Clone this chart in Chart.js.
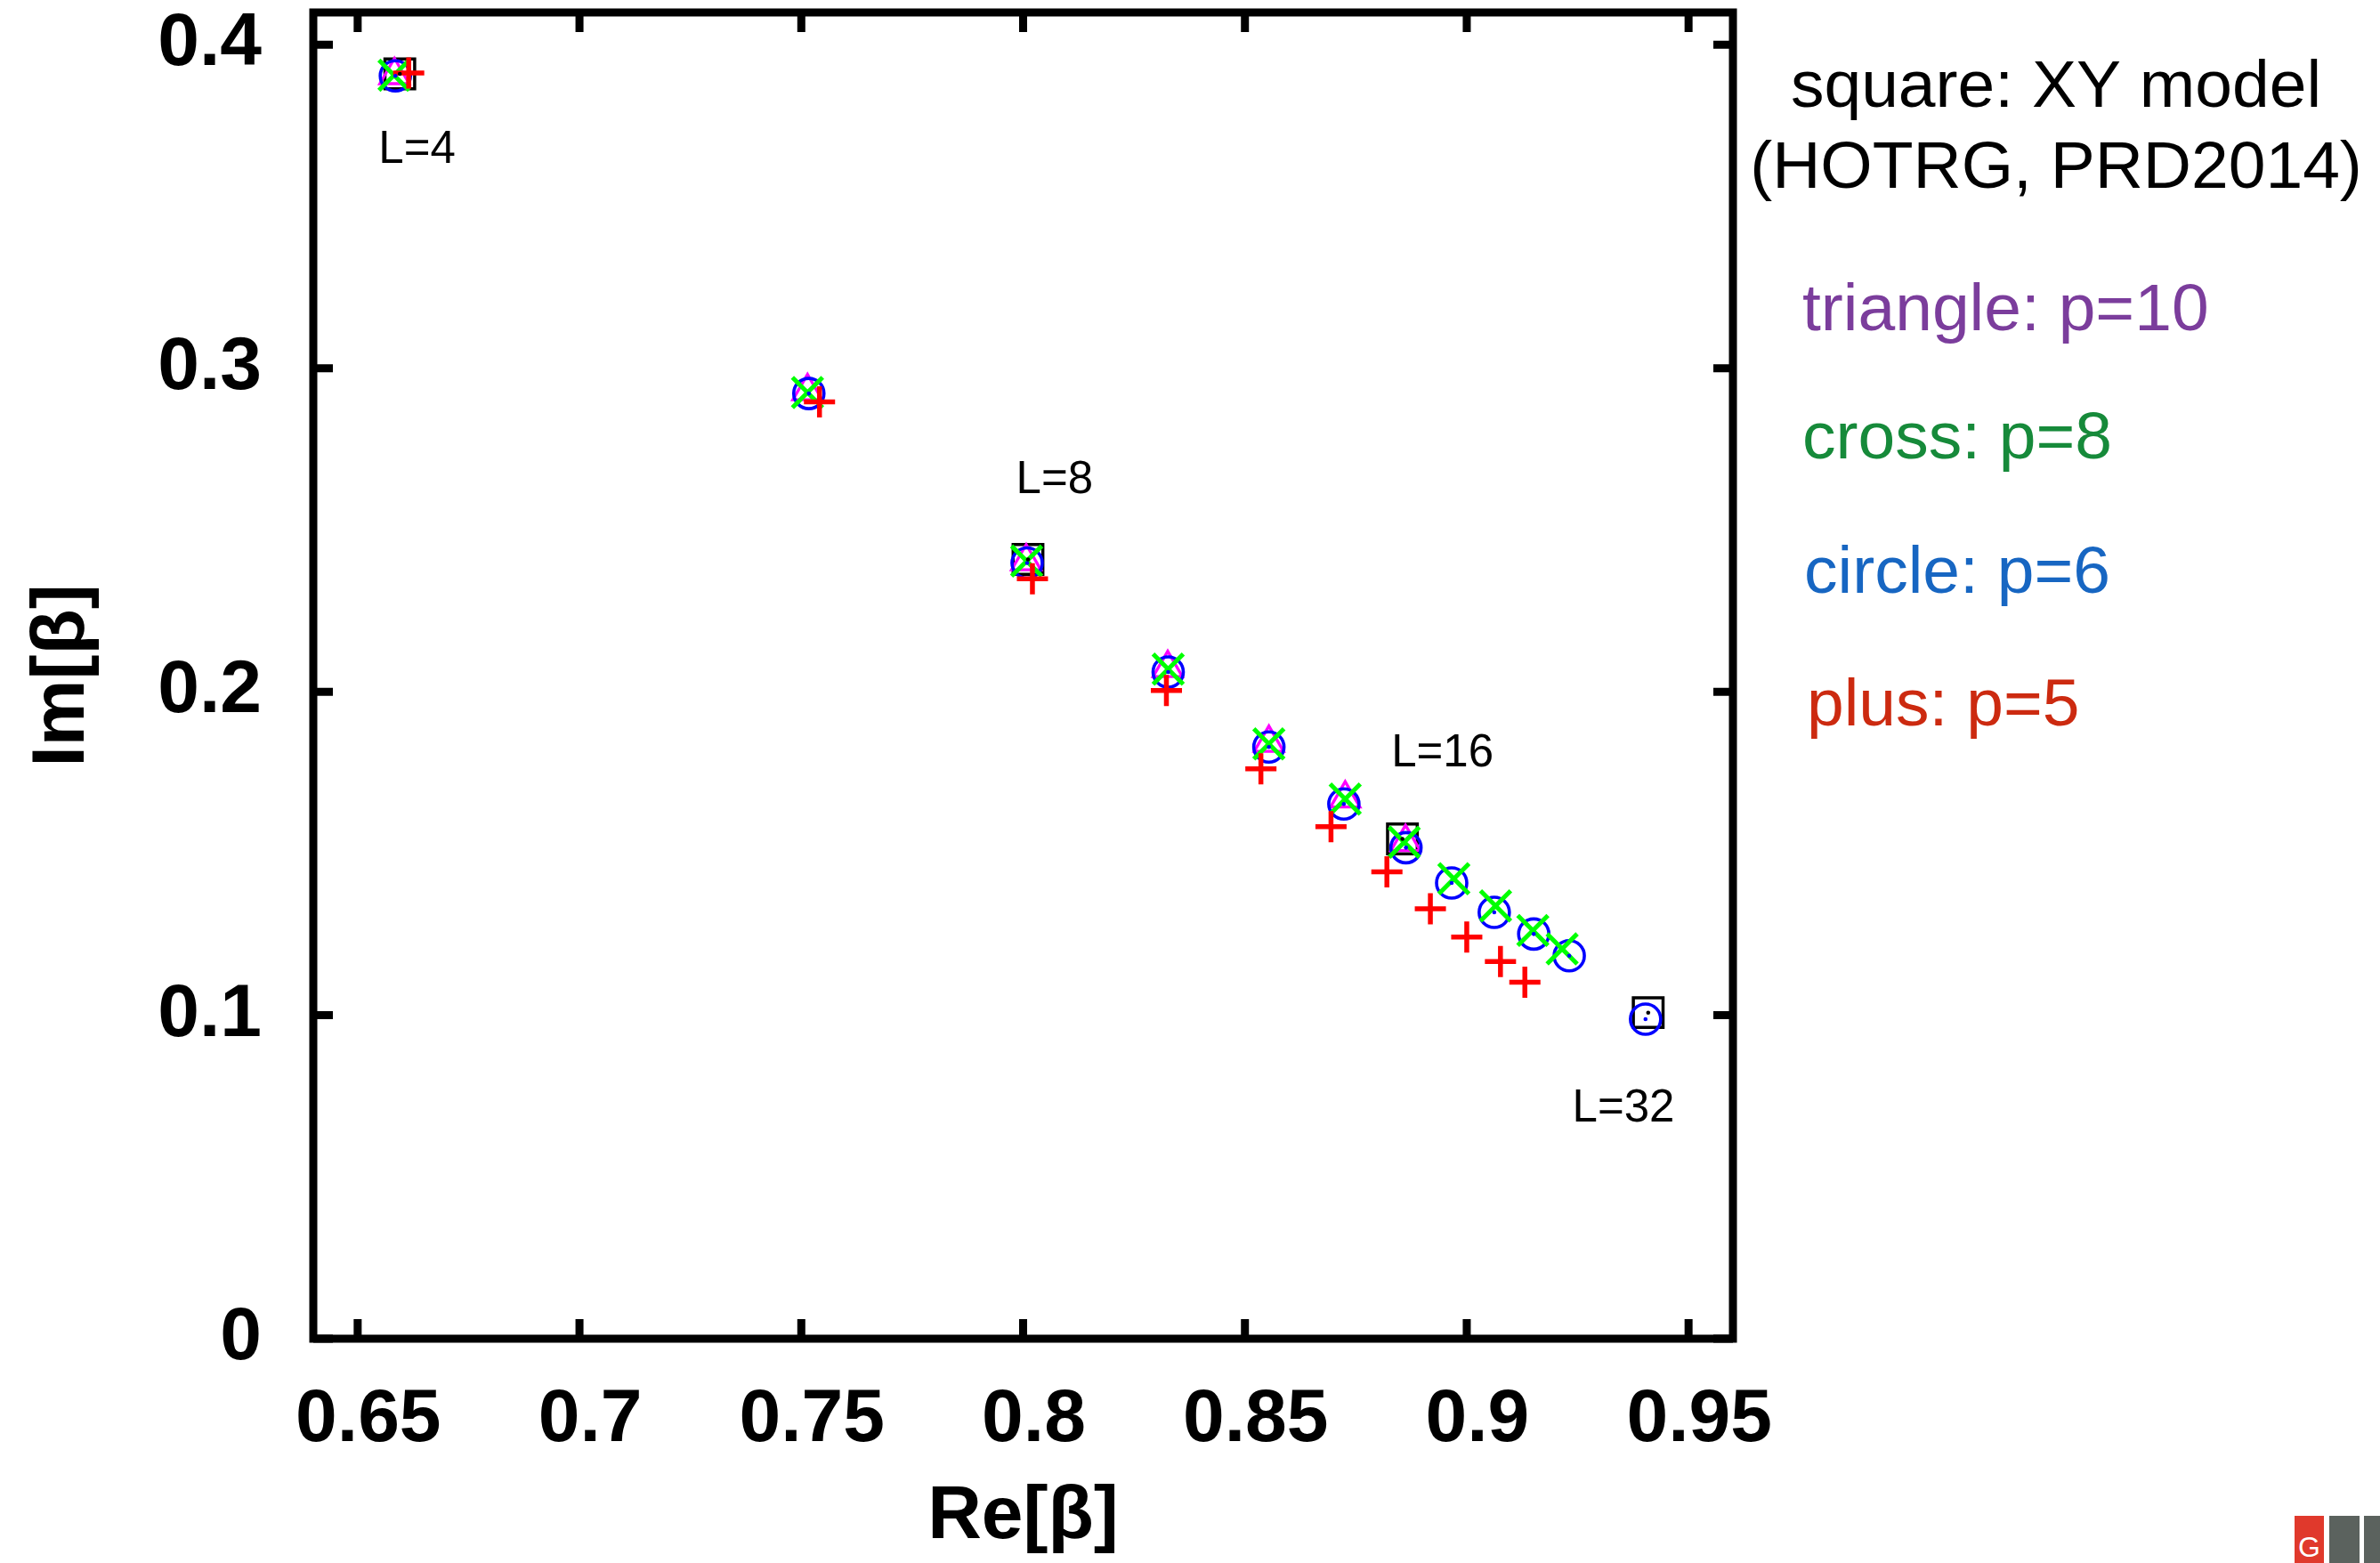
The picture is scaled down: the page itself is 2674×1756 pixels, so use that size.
<!DOCTYPE html>
<html>
<head>
<meta charset="utf-8">
<title>Fisher zeros, XY model</title>
<script src="https://cdn.jsdelivr.net/npm/chart.js"></script>
<style>
  html, body { margin: 0; padding: 0; background: #fff; }
  #wrap { position: relative; width: 2674px; height: 1756px; }
  .logo { position: absolute; top: 1703px; height: 53px; }
</style>
</head>
<body>
<div id="wrap">
  <canvas id="zeros" width="2674" height="1756"></canvas>
  <div class="logo" style="left:2578px;width:33px;background:#e0392c;color:#fff;font:32px 'Liberation Sans',Arial,sans-serif;text-align:center;line-height:70px;overflow:hidden">G</div>
  <div class="logo" style="left:2617px;width:34px;background:#5b625e"></div>
  <div class="logo" style="left:2656px;width:18px;background:#5b625e"></div>
</div>
<script>
const FONT = "'Liberation Sans', Arial, Helvetica, sans-serif";

// square: XY model, HOTRG reference
const squareRe = [0.6595, 0.8011, 0.8855, 0.9409];
const squareIm = [0.3910, 0.2409, 0.1545, 0.1008];

// triangle: p=10
const triRe = [0.6583, 0.7514, 0.8007, 0.8326, 0.8554, 0.8726, 0.8862];
const triIm = [0.3906, 0.2929, 0.2403, 0.2073, 0.1842, 0.1670, 0.1535];

// cross: p=8
const crossRe = [0.6582, 0.7514, 0.8008, 0.8327, 0.8554, 0.8726, 0.8859, 0.8971, 0.9065, 0.9149, 0.9215];
const crossIm = [0.3906, 0.2925, 0.2404, 0.2070, 0.1839, 0.1668, 0.1535, 0.1422, 0.1338, 0.1262, 0.1205];

// circle: p=6
const circRe = [0.6585, 0.7517, 0.8009, 0.8327, 0.8554, 0.8723, 0.8863, 0.8966, 0.9062, 0.9151, 0.9231, 0.9403];
const circIm = [0.3904, 0.2922, 0.2398, 0.2061, 0.1829, 0.1653, 0.1518, 0.1409, 0.1318, 0.1251, 0.1184, 0.0988];

// plus: p=5
const plusRe = [0.6615, 0.7541, 0.8021, 0.8323, 0.8536, 0.8694, 0.8820, 0.8918, 0.9000, 0.9076, 0.9131];
const plusIm = [0.3913, 0.2896, 0.2349, 0.2004, 0.1762, 0.1583, 0.1443, 0.1329, 0.1242, 0.1166, 0.1102];

// lattice size annotations (anchor = left end of text baseline)
const sizeLabels = ['L=4', 'L=8', 'L=16', 'L=32'];
const sizeLabelRe = [0.6547, 0.7984, 0.8830, 0.9238];
const sizeLabelIm = [0.3634, 0.2615, 0.1769, 0.0671];

const xTicks = [0.65, 0.7, 0.75, 0.8, 0.85, 0.9, 0.95];
const xTickLabels = ['0.65', '0.7', '0.75', '0.8', '0.85', '0.9', '0.95'];
const yTicks = [0, 0.1, 0.2, 0.3, 0.4];
const yTickLabels = ['0', '0.1', '0.2', '0.3', '0.4'];

const pts = (xs, ys) => xs.map((x, i) => ({ x: x, y: ys[i] }));

const boldFont = { family: FONT, size: 84, weight: 'bold', lineHeight: 1.2 };

// frame, inward ticks, centre dots, text annotations
const decorations = {
  id: 'decorations',
  afterDatasetsDraw(chart) {
    const { ctx, scales: { x, y } } = chart;
    ctx.save();
    // gnuplot-style centre dot on circles and squares
    [[2, '#0000ff'], [4, '#000000']].forEach(([idx, col]) => {
      ctx.fillStyle = col;
      chart.getDatasetMeta(idx).data.forEach(p => {
        ctx.beginPath();
        ctx.arc(p.x, p.y, 2.3, 0, Math.PI * 2);
        ctx.fill();
      });
    });
    ctx.fillStyle = '#000';
    ctx.font = '51px ' + FONT;
    ctx.textAlign = 'left';
    ctx.textBaseline = 'alphabetic';
    sizeLabels.forEach((t, i) => {
      ctx.fillText(t, x.getPixelForValue(sizeLabelRe[i]), y.getPixelForValue(sizeLabelIm[i]));
    });
    ctx.restore();
  },
  afterDraw(chart) {
    const { ctx, chartArea: a, scales: { x, y } } = chart;
    const tick = 22;
    ctx.save();
    ctx.strokeStyle = '#000';
    ctx.lineWidth = 9;
    ctx.lineCap = 'butt';
    ctx.lineJoin = 'miter';
    ctx.strokeRect(a.left, a.top, a.right - a.left, a.bottom - a.top);
    ctx.beginPath();
    xTicks.forEach(v => {
      const px = x.getPixelForValue(v);
      ctx.moveTo(px, a.bottom); ctx.lineTo(px, a.bottom - tick);
      ctx.moveTo(px, a.top); ctx.lineTo(px, a.top + tick);
    });
    yTicks.forEach(v => {
      const py = y.getPixelForValue(v);
      ctx.moveTo(a.left, py); ctx.lineTo(a.left + tick, py);
      ctx.moveTo(a.right, py); ctx.lineTo(a.right - tick, py);
    });
    ctx.stroke();

    // key text on the right
    ctx.font = '75px ' + FONT;
    ctx.textBaseline = 'alphabetic';
    ctx.fillStyle = '#000';
    ctx.textAlign = 'center';
    ctx.fillText('square: XY model', 2310, 120);
    ctx.fillText('(HOTRG, PRD2014)', 2310, 211);
    ctx.textAlign = 'left';
    ctx.fillStyle = '#7b3d9c';
    ctx.fillText('triangle: p=10', 2025, 371);
    ctx.fillStyle = '#168a3a';
    ctx.fillText('cross: p=8', 2025, 515);
    ctx.fillStyle = '#1766c2';
    ctx.fillText('circle: p=6', 2027, 666);
    ctx.fillStyle = '#cc2a10';
    ctx.fillText('plus: p=5', 2030, 815);
    ctx.restore();
  }
};

new Chart(document.getElementById('zeros'), {
  type: 'scatter',
  data: {
    datasets: [
      { label: 'plus: p=5', data: pts(plusRe, plusIm), order: 0,
        pointStyle: 'cross', pointRadius: 17.5, borderColor: '#ff0000', borderWidth: 5.5, backgroundColor: 'transparent' },
      { label: 'cross: p=8', data: pts(crossRe, crossIm), order: 1,
        pointStyle: 'crossRot', pointRadius: 24, borderColor: '#00ff00', borderWidth: 5, backgroundColor: 'transparent' },
      { label: 'circle: p=6', data: pts(circRe, circIm), order: 2,
        pointStyle: 'circle', pointRadius: 17, borderColor: '#0000ff', borderWidth: 3.6, backgroundColor: 'transparent' },
      { label: 'triangle: p=10', data: pts(triRe, triIm), order: 3,
        pointStyle: 'triangle', pointRadius: 19, borderColor: '#ff00ff', borderWidth: 3.3, backgroundColor: 'transparent' },
      { label: 'square: XY model', data: pts(squareRe, squareIm), order: 4,
        pointStyle: 'rect', pointRadius: 23.6, borderColor: '#000000', borderWidth: 3.5, backgroundColor: 'transparent' }
    ]
  },
  options: {
    responsive: false,
    animation: false,
    events: [],
    layout: { autoPadding: false, padding: { top: 14, right: 727, left: 0, bottom: 0 } },
    plugins: { legend: { display: false }, tooltip: { enabled: false } },
    scales: {
      x: {
        type: 'linear', min: 0.64, max: 0.96,
        grid: { display: false }, border: { display: false },
        afterBuildTicks: s => { s.ticks = xTicks.map(v => ({ value: v })); },
        afterFit: s => { s.height = 252; s.paddingLeft = 0; s.paddingRight = 0; },
        ticks: { autoSkip: false, maxRotation: 0, padding: 33, labelOffset: 12, color: '#000', font: boldFont,
                 callback: (v, i) => xTickLabels[i] },
        title: { display: true, text: 'Re[β]', color: '#000', font: boldFont, padding: { top: 0, bottom: 1 } }
      },
      y: {
        type: 'linear', min: 0, max: 0.41,
        grid: { display: false }, border: { display: false },
        afterBuildTicks: s => { s.ticks = yTicks.map(v => ({ value: v })); },
        afterFit: s => { s.width = 352; s.paddingTop = 0; s.paddingBottom = 0; },
        ticks: { autoSkip: false, padding: 50, color: '#000', font: boldFont,
                 callback: (v, i) => yTickLabels[i] },
        title: { display: true, text: 'Im[β]', color: '#000', font: boldFont, padding: { top: 20, bottom: 0 } }
      }
    }
  },
  plugins: [decorations]
});
</script>
</body>
</html>
